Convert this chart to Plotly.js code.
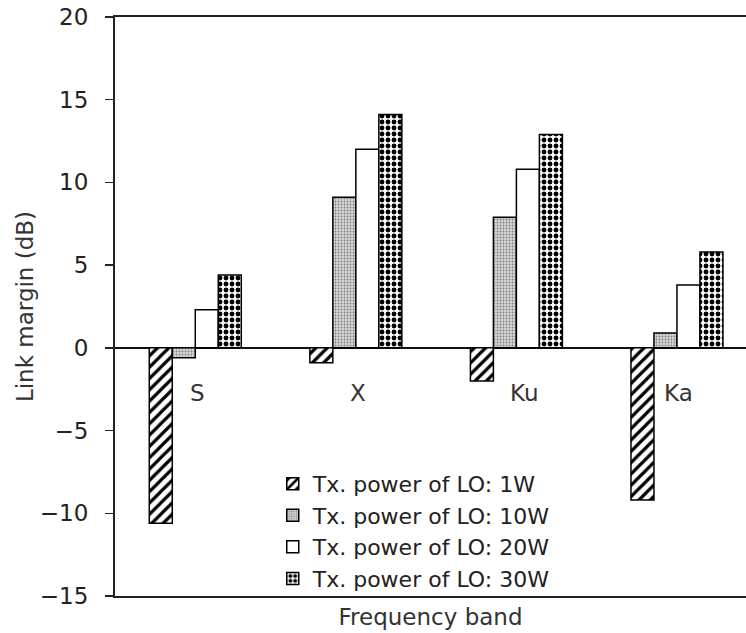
<!DOCTYPE html>
<html>
<head>
<meta charset="utf-8">
<script src="https://cdn.plot.ly/plotly-3.0.1.min.js"></script>
<style>html,body{margin:0;padding:0;background:#fff;overflow:hidden}</style>
</head>
<body>
<div id="chart" style="width:746px;height:633px"></div>
<script>
// Data
const bands = ['S', 'X', 'Ku', 'Ka'];
const seriesNames = ['Tx. power of LO: 1W', 'Tx. power of LO: 10W', 'Tx. power of LO: 20W', 'Tx. power of LO: 30W'];
const p1W  = [-10.6, -0.9, -2.0, -9.2];
const p10W = [-0.6, 9.1, 7.9, 0.9];
const p20W = [2.3, 12.0, 10.8, 3.8];
const p30W = [4.4, 14.1, 12.9, 5.8];
const bandLabelY = [-2.7, -2.7, -2.7, -2.7];
const yTicks = [-15, -10, -5, 0, 5, 10, 15, 20];

const FONT = 'DejaVu Sans, Liberation Sans, Arial, sans-serif';
const lineStyle = {color: '#000', width: 1.5};

const traces = [
  {x: bands, y: p1W, name: seriesNames[0], type: 'bar',
   marker: {color: '#fff', line: lineStyle,
            pattern: {shape: '/', fgcolor: '#000', bgcolor: '#fff', size: 8, solidity: 0.4}}},
  {x: bands, y: p10W, name: seriesNames[1], type: 'bar',
   marker: {color: '#cfcfcf', line: lineStyle,
            pattern: {shape: '.', fgcolor: '#808080', bgcolor: '#d6d6d6', size: 3, solidity: 0.3}}},
  {x: bands, y: p20W, name: seriesNames[2], type: 'bar',
   marker: {color: '#fff', line: lineStyle}},
  {x: bands, y: p30W, name: seriesNames[3], type: 'bar',
   marker: {color: '#fff', line: lineStyle,
            pattern: {shape: '.', fgcolor: '#000', bgcolor: '#fff', size: 6, solidity: 0.52}}}
];

const annotations = bands.map((b, i) => ({
  x: b, y: bandLabelY[i], xref: 'x', yref: 'y', text: b, showarrow: false,
  xshift: b === 'Ku' ? 8 : 2,
  font: {family: FONT, size: 23, color: '#333'}
}));

const layout = {
  width: 746, height: 633,
  margin: {l: 115, r: 0, t: 17, b: 37, pad: 0},
  paper_bgcolor: '#fff', plot_bgcolor: '#fff',
  barmode: 'group', bargap: 0.427, bargroupgap: 0,
  showlegend: true,
  legend: {x: 0.25, y: 0.23, xanchor: 'left', yanchor: 'top',
           bgcolor: 'rgba(0,0,0,0)', borderwidth: 0, itemwidth: 30,
           font: {family: FONT, size: 22, color: '#222'}},
  xaxis: {type: 'category', range: [-0.5, 3.43], showticklabels: false, ticks: '',
          showline: true, linecolor: '#222', linewidth: 2, mirror: true,
          showgrid: false, zeroline: false,
          title: {text: 'Frequency band', font: {family: FONT, size: 23, color: '#333'}, standoff: 12}},
  yaxis: {range: [-15, 20], tickvals: yTicks, ticks: 'outside', ticklen: 8, tickwidth: 1.5,
          tickcolor: '#222', ticklabelstandoff: 12,
          showline: true, linecolor: '#222', linewidth: 2, mirror: false,
          showgrid: false, zeroline: true, zerolinecolor: '#111', zerolinewidth: 2,
          tickfont: {family: FONT, size: 23, color: '#222'},
          title: {text: 'Link margin (dB)', font: {family: FONT, size: 23, color: '#333'}, standoff: 0}},
  annotations: annotations
};

Plotly.newPlot('chart', traces, layout, {displayModeBar: false, staticPlot: true});
</script>
</body>
</html>
